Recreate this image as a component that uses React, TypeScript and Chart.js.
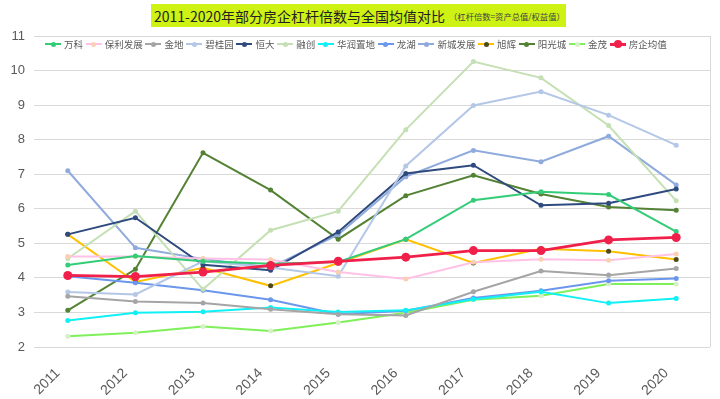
import React, { useEffect, useRef } from "react";
import { Chart, registerables } from "chart.js";

Chart.register(...registerables);

const years = ["2011", "2012", "2013", "2014", "2015", "2016", "2017", "2018", "2019", "2020"];
const yTicks = [2, 3, 4, 5, 6, 7, 8, 9, 10, 11];

const vanke = [4.37, 4.63, 4.48, 4.41, 4.46, 5.12, 6.25, 6.49, 6.41, 5.34];
const poly = [4.62, 4.62, 4.56, 4.53, 4.17, 3.97, 4.45, 4.54, 4.51, 4.69];
const gemdale = [3.47, 3.32, 3.27, 3.09, 2.95, 2.91, 3.6, 4.2, 4.08, 4.27];
const countryGarden = [3.59, 3.52, 4.48, 4.3, 4.05, 7.24, 8.99, 9.39, 8.71, 7.84];
const evergrande = [5.26, 5.74, 4.38, 4.22, 5.33, 7.02, 7.26, 6.1, 6.16, 6.57];
const sunac = [4.56, 5.93, 3.67, 5.38, 5.93, 8.29, 10.26, 9.79, 8.41, 6.23];
const crLand = [2.77, 2.99, 3.02, 3.14, 3.01, 3.06, 3.38, 3.6, 3.27, 3.4];
const longfor = [4.05, 3.86, 3.64, 3.37, 2.95, 3.05, 3.42, 3.63, 3.92, 3.98];
const seazen = [7.1, 4.87, 4.55, 4.3, 5.25, 6.93, 7.69, 7.36, 8.1, 6.69];
const cifi = [5.26, 3.88, 4.29, 3.77, 4.43, 5.12, 4.43, 4.84, 4.77, 4.53];
const yango = [3.06, 4.25, 7.62, 6.54, 5.12, 6.38, 6.97, 6.43, 6.05, 5.96];
const jinmao = [2.31, 2.41, 2.59, 2.46, 2.71, 2.99, 3.37, 3.48, 3.82, 3.82];
const average = [4.07, 4.04, 4.17, 4.36, 4.48, 4.6, 4.79, 4.79, 5.1, 5.17];

const seriesNames = ["万科", "保利发展", "金地", "碧桂园", "恒大", "融创", "华润置地", "龙湖", "新城发展", "旭辉", "阳光城", "金茂", "房企均值"];
const seriesData = [vanke, poly, gemdale, countryGarden, evergrande, sunac, crLand, longfor, seazen, cifi, yango, jinmao, average];
const lineColors = ["#33CC77", "#FFC2E6", "#A5A5A5", "#B4C7E7", "#2F4A7E", "#C5E0B4", "#11F0F5", "#6A96EC", "#8FAADC", "#FFC000", "#548235", "#7FF05A", "#F0204A"];
const pointColors = ["#33CC77", "#FBD0B0", "#A5A5A5", "#B4C7E7", "#2F4A7E", "#C5E0B4", "#11F0F5", "#6A96EC", "#8FAADC", "#4D4A1A", "#548235", "#D8F0C8", "#F0204A"];

const FONT = "'Noto Sans CJK SC', 'Noto Sans', sans-serif";

export default function App() {
  const canvasRef = useRef<HTMLCanvasElement | null>(null);

  useEffect(() => {
    document.body.style.margin = "0";
    const canvas = canvasRef.current;
    if (!canvas) return;
    const rightBorder = {
      id: "rightBorder",
      afterDraw(chart: any) {
        const { ctx, chartArea } = chart;
        ctx.save();
        ctx.strokeStyle = "#D9D9D9";
        ctx.lineWidth = 1;
        ctx.beginPath();
        ctx.moveTo(Math.round(chartArea.right) + 0.5, chartArea.top);
        ctx.lineTo(Math.round(chartArea.right) + 0.5, chartArea.bottom);
        ctx.stroke();
        ctx.restore();
      },
    };
    const chart = new Chart(canvas, {
      type: "line",
      data: {
        labels: years,
        datasets: seriesNames.map((name, i) => {
          const isAvg = i === seriesNames.length - 1;
          return {
            label: name,
            data: seriesData[i],
            borderColor: lineColors[i],
            backgroundColor: pointColors[i],
            pointBackgroundColor: pointColors[i],
            pointBorderColor: pointColors[i],
            borderWidth: isAvg ? 2.75 : 2,
            pointRadius: isAvg ? 4.5 : 2.5,
            pointBorderWidth: 0,
            tension: 0,
            order: isAvg ? -1 : 0,
          };
        }),
      },
      options: {
        responsive: false,
        animation: false,
        layout: { padding: { top: 36, right: 10, left: 0, bottom: 0 } },
        plugins: {
          legend: { display: false },
          title: { display: false },
          tooltip: { enabled: false },
        },
        scales: {
          x: {
            offset: true,
            grid: { display: false },
            border: { display: false },
            ticks: {
              color: "#595959",
              font: { family: "'Liberation Sans', 'DejaVu Sans', sans-serif", size: 14 },
              minRotation: 45,
              maxRotation: 45,
              padding: 10,
              labelOffset: -10,
            },
            afterFit: (scale: any) => {
              scale.height = 52;
            },
          },
          y: {
            min: 2,
            max: 11,
            afterBuildTicks: (scale: any) => {
              scale.ticks = yTicks.map((v) => ({ value: v }));
            },
            grid: { color: "#D9D9D9", drawTicks: false, lineWidth: 1 },
            border: { display: false },
            ticks: {
              color: "#595959",
              font: { family: "'Liberation Sans', 'DejaVu Sans', sans-serif", size: 13 },
              padding: 9,
            },
            afterFit: (scale: any) => {
              scale.width = 34;
            },
          },
        },
      },
      plugins: [rightBorder],
    });
    return () => chart.destroy();
  }, []);

  return (
    <div style={{ position: "relative", width: 720, height: 399, background: "#fff", overflow: "hidden" }}>
      <canvas ref={canvasRef} width={720} height={399} style={{ display: "block" }} />
      <div
        style={{
          position: "absolute",
          left: 151,
          top: 4,
          width: 415,
          height: 23,
          background: "#CDF214",
          fontFamily: FONT,
          color: "#222",
          display: "flex",
          alignItems: "center",
          paddingLeft: 3,
          boxSizing: "border-box",
          whiteSpace: "nowrap",
        }}
      >
        <span style={{ fontSize: 14 }}>2011-2020年部分房企杠杆倍数与全国均值对比</span>
        <span style={{ fontSize: 8.3, marginLeft: 4, color: "#444" }}>（杠杆倍数=资产总值/权益值）</span>
      </div>
      <div
        style={{
          position: "absolute",
          left: 45,
          top: 37,
          width: 622,
          height: 14,
          display: "flex",
          justifyContent: "space-between",
          alignItems: "center",
          fontFamily: FONT,
          fontSize: 9.5,
          color: "#595959",
          whiteSpace: "nowrap",
        }}
      >
        {seriesNames.map((name, i) => {
          const isAvg = i === seriesNames.length - 1;
          return (
            <span key={name} style={{ display: "inline-flex", alignItems: "center" }}>
              <span style={{ position: "relative", display: "inline-block", width: 16, height: 8, marginRight: 3 }}>
                <span
                  style={{
                    position: "absolute",
                    left: 0,
                    top: isAvg ? 2.5 : 3,
                    width: 16,
                    height: isAvg ? 3 : 2,
                    background: lineColors[i],
                  }}
                />
                <span
                  style={{
                    position: "absolute",
                    left: isAvg ? 4 : 5.5,
                    top: isAvg ? 0 : 1.5,
                    width: isAvg ? 8 : 5,
                    height: isAvg ? 8 : 5,
                    borderRadius: "50%",
                    background: pointColors[i],
                  }}
                />
              </span>
              {name}
            </span>
          );
        })}
      </div>
    </div>
  );
}
